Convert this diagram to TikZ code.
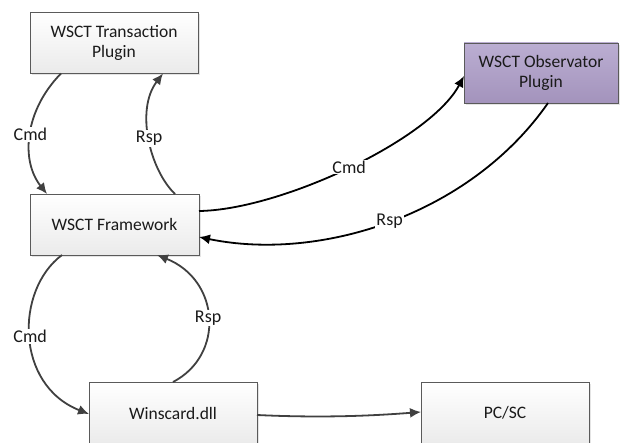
\documentclass[tikz,border=0pt]{standalone}
\usepackage{fontspec}
\setmainfont{Carlito}
\usetikzlibrary{arrows.meta,calc,shadows}
\definecolor{boxline}{HTML}{5A5A5A}
\definecolor{darkarrow}{HTML}{404040}
\definecolor{obstop}{HTML}{BBAED2}
\definecolor{obsbot}{HTML}{A393BC}
\definecolor{txt}{HTML}{1A1A1A}
\tikzset{
  box/.style={draw=boxline, line width=0.9pt, minimum width=168pt, minimum height=61pt,
    top color=white, bottom color=gray!16, outer sep=0pt, align=center,
    font=\fontsize{17.5}{20}\selectfont, text=txt,
    drop shadow={shadow xshift=2pt, shadow yshift=-2pt, fill=gray!35, opacity=0.6}},
  obsbox/.style={box, top color=obstop, bottom color=obsbot},
  conn/.style={draw=darkarrow, line width=1.8pt, -{Latex[length=11pt,width=10pt]}},
  bconn/.style={draw=black, line width=1.8pt, -{Latex[length=11pt,width=10pt]}},
  lbl/.style={fill=white, inner sep=1pt, font=\fontsize{18}{20}\selectfont, text=txt}
}
\begin{document}
\begin{tikzpicture}[x=1pt,y=-1pt]
\useasboundingbox (0,0) rectangle (625,443);
\clip (0,0) rectangle (625,443);
\node[box] (trans) at (114,43) {WSCT Transaction\\Plugin};
\node[obsbox, minimum width=154pt, minimum height=60pt] (obs) at (541,73) {WSCT Observator\\Plugin};
\node[box, minimum width=169pt] (fw) at (114.5,224.5) {WSCT Framework};
\node[box, minimum height=62pt] (win) at (173,413) {Winscard.dll};
\node[box, minimum height=62pt] (pcsc) at (505,413) {PC/SC};
% Transaction <-> Framework
\draw[conn] ($(trans.south)+(-53,0)$) .. controls (25,110) and (20,160) .. ($(fw.north)+(-67.5,0)$)
  node[lbl, pos=0.5] {Cmd};
\draw[conn] ($(fw.north)+(60.5,0)$) .. controls (150,170) and (135,110) .. ($(trans.south)+(49,0)$)
  node[lbl, pos=0.5] {Rsp};
% Framework <-> Observator
\draw[bconn] ($(fw.east)+(0,-13.5)$) .. controls (280,210) and (430,140) .. ($(obs.west)+(0,3)$)
  node[lbl, pos=0.5] {Cmd};
\draw[bconn] ($(obs.south)+(7,0)$) .. controls (470,215) and (320,262) .. ($(fw.east)+(0,12.5)$)
  node[lbl, pos=0.5] {Rsp};
% Framework <-> Winscard
\draw[conn] ($(fw.south)+(-52.5,0)$) .. controls (15,290) and (15,385) .. ($(win.west)+(0,1)$)
  node[lbl, pos=0.5] {Cmd};
\draw[conn] (win.north) .. controls (225,355) and (220,280) .. ($(fw.south)+(42.5,0)$)
  node[lbl, pos=0.5] {Rsp};
% Winscard -> PC/SC
\draw[conn] ($(win.east)+(0,2)$) .. controls (320,418) and (370,416) .. ($(pcsc.west)+(0,-1)$);
\end{tikzpicture}
\end{document}
